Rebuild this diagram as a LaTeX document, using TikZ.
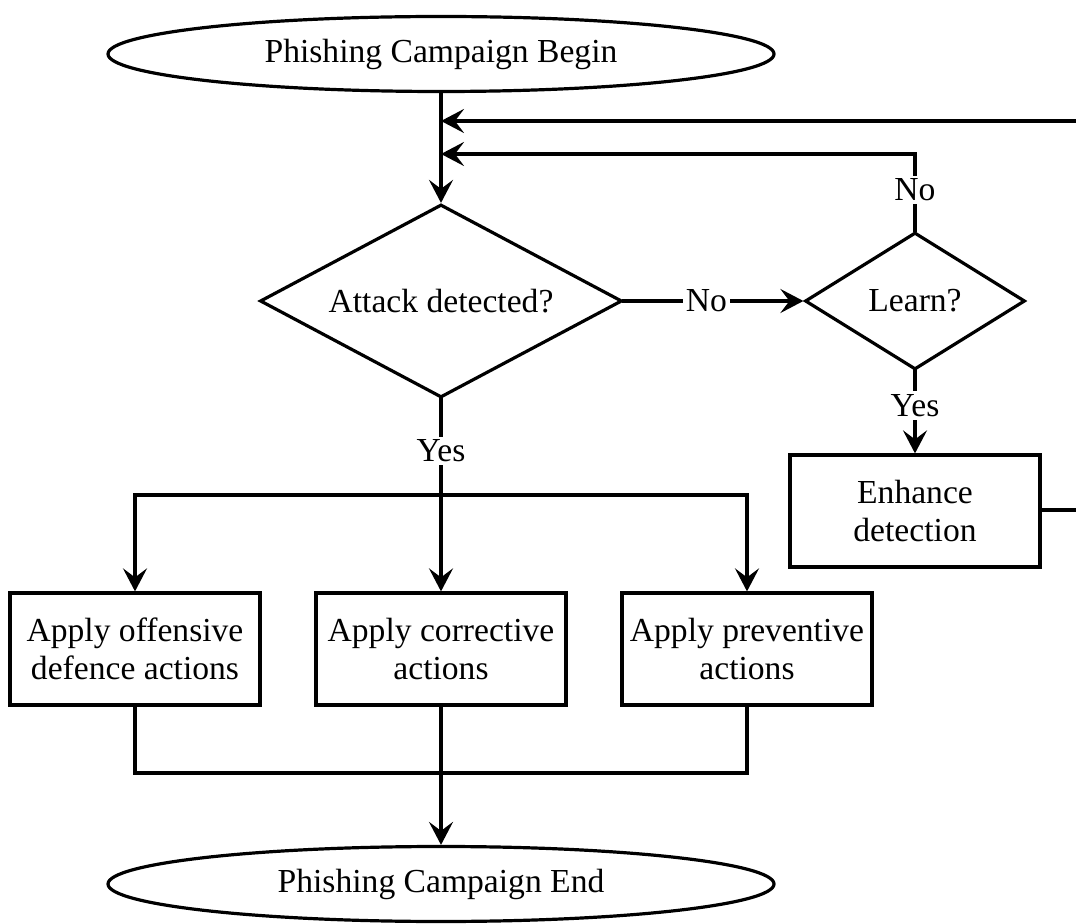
\documentclass[tikz,border=0pt]{standalone}
\usepackage{fontspec}
\setmainfont{Liberation Serif}
\usetikzlibrary{shapes.geometric,arrows.meta}

\tikzset{
  flow/.style={line width=1.6pt, line cap=rect},
  arr/.style={flow, -{Stealth[length=11.5pt,width=12pt,inset=4.5pt]}},
  terminal/.style={ellipse, draw, line width=1.6pt, minimum width=333pt,
    minimum height=37.5pt, inner sep=0pt, fill=white},
  decision/.style={diamond, draw, line width=1.6pt, inner sep=0pt,
    fill=white},
  process/.style={rectangle, draw, line width=1.6pt, minimum width=125pt,
    minimum height=56pt, inner sep=2pt, align=center, fill=white},
  lbl/.style={fill=white, inner sep=1.5pt}
}

\begin{document}
\begin{tikzpicture}[x=0.5pt, y=-0.5pt,
  every node/.append style={font=\fontsize{16.8pt}{19pt}\selectfont}]
  \useasboundingbox (0,0) rectangle (1076,924);

  % nodes
  \node[terminal] (begin) at (441,54) {Phishing Campaign Begin};
  \node[decision, minimum width=181pt, minimum height=96.5pt] (attack) at (441,301) {};
  \node at (attack.center) {Attack detected?};
  \node[decision, minimum width=110pt, minimum height=68.5pt] (learn) at (915,301) {};
  \node at (learn.center) {Learn?};
  \node[process] (enhance) at (915,511) {Enhance\\detection};
  \node[process] (offensive) at (135,649) {Apply offensive\\defence actions};
  \node[process] (corrective) at (441,649) {Apply corrective\\actions};
  \node[process] (preventive) at (747,649) {Apply preventive\\actions};
  \node[terminal] (end) at (441,884) {Phishing Campaign End};

  % free ends and junctions
  \coordinate (loopin) at (1076,121);
  \coordinate (loopout) at (1076,510);
  \coordinate (split) at (441,495);
  \coordinate (join) at (441,773);

  % main line and loop returns
  \draw[arr] (begin) -- (attack);
  \draw[arr] (loopin) -- (loopin -| begin);
  \draw[flow] (enhance.east |- loopout) -- (loopout);
  \draw[arr] (learn.north) -- (learn.north |- 0,154) -- (441,154);
  \node[lbl] at (915,190) {No};

  % decisions
  \draw[arr] (attack.east) -- (learn.west) node[pos=0.46, lbl] {No};
  \draw[arr] (learn.south) -- (enhance.north) node[pos=0.42, lbl] {Yes};
  \draw[flow] (attack.south) -- (split) node[pos=0.54, lbl] {Yes};

  % branches
  \draw[flow] (offensive.north |- split) -- (preventive.north |- split);
  \draw[arr] (split) -- (corrective.north);
  \draw[arr] (offensive.north |- split) -- (offensive.north);
  \draw[arr] (preventive.north |- split) -- (preventive.north);

  % merge
  \draw[flow] (offensive.south) -- (offensive.south |- join)
    -- (preventive.south |- join) -- (preventive.south);
  \draw[arr] (corrective.south) -- (end.north);
\end{tikzpicture}
\end{document}
